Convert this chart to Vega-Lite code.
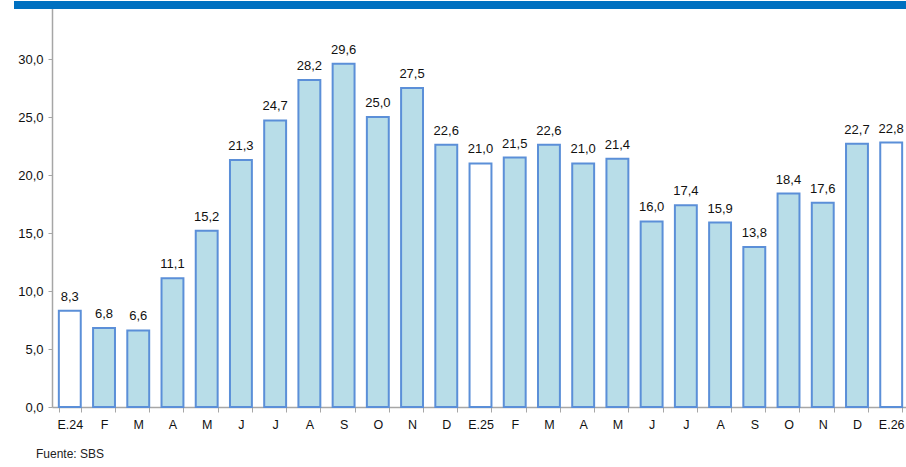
{
  "$schema": "https://vega.github.io/schema/vega-lite/v6.json",
  "width": 857,
  "height": 406,
  "autosize": {"type": "none"},
  "padding": {"left": 52, "top": 1, "right": 0, "bottom": 60},
  "background": "white",
  "config": {"view": {"stroke": null}, "font": "Liberation Sans",
    "locale": {"number": {"decimal": ",", "thousands": ".", "grouping": [3], "currency": ["", ""]}}},
  "title": {"text": "Fuente:  SBS", "orient": "bottom", "anchor": "start", "frame": "group", "dx": -16, "offset": 18, "fontSize": 12, "fontWeight": "normal", "color": "#222222", "font": "Liberation Sans"},
  "layer": [
    {
      "data": {"name": "main", "values": [
        {"id": "E.24|0", "v": 8.3, "t": "ene"},
        {"id": "F|1", "v": 6.8, "t": "mes"},
        {"id": "M|2", "v": 6.6, "t": "mes"},
        {"id": "A|3", "v": 11.1, "t": "mes"},
        {"id": "M|4", "v": 15.2, "t": "mes"},
        {"id": "J|5", "v": 21.3, "t": "mes"},
        {"id": "J|6", "v": 24.7, "t": "mes"},
        {"id": "A|7", "v": 28.2, "t": "mes"},
        {"id": "S|8", "v": 29.6, "t": "mes"},
        {"id": "O|9", "v": 25.0, "t": "mes"},
        {"id": "N|10", "v": 27.5, "t": "mes"},
        {"id": "D|11", "v": 22.6, "t": "mes"},
        {"id": "E.25|12", "v": 21.0, "t": "ene"},
        {"id": "F|13", "v": 21.5, "t": "mes"},
        {"id": "M|14", "v": 22.6, "t": "mes"},
        {"id": "A|15", "v": 21.0, "t": "mes"},
        {"id": "M|16", "v": 21.4, "t": "mes"},
        {"id": "J|17", "v": 16.0, "t": "mes"},
        {"id": "J|18", "v": 17.4, "t": "mes"},
        {"id": "A|19", "v": 15.9, "t": "mes"},
        {"id": "S|20", "v": 13.8, "t": "mes"},
        {"id": "O|21", "v": 18.4, "t": "mes"},
        {"id": "N|22", "v": 17.6, "t": "mes"},
        {"id": "D|23", "v": 22.7, "t": "mes"},
        {"id": "E.26|24", "v": 22.8, "t": "ene"}
      ]},
      "encoding": {
        "x": {"field": "id", "type": "nominal", "sort": null,
          "scale": {"paddingInner": 0.36, "paddingOuter": 0.2},
          "axis": {"title": null, "labelAngle": 0, "labelExpr": "isString(datum.value) ? split(datum.value,'|')[0] : ''", "labelFontSize": 12.5, "labelColor": "#111111", "labelPadding": 6, "tickBand": "extent", "tickSize": 5, "tickColor": "#a6a6a6", "domainColor": "#a6a6a6", "domainWidth": 1.5}},
        "y": {"field": "v", "type": "quantitative",
          "scale": {"domain": [0, 35], "nice": false},
          "axis": {"title": null, "values": [0, 5, 10, 15, 20, 25, 30], "format": ".1f", "labelFontSize": 13, "labelColor": "#111111", "grid": false, "tickSize": 4, "tickColor": "#a6a6a6", "domainColor": "#a6a6a6", "domainWidth": 1.5, "labelPadding": 5}}
      },
      "layer": [
        {"mark": {"type": "bar", "stroke": "#5b8fd8", "strokeWidth": 2},
          "encoding": {"fill": {"field": "t", "type": "nominal", "scale": {"domain": ["ene", "mes"], "range": ["#ffffff", "#b8dde8"]}, "legend": null}}},
        {"mark": {"type": "text", "baseline": "bottom", "dy": -7, "fontSize": 13, "color": "#111111"},
          "encoding": {"text": {"field": "v", "type": "quantitative", "format": ".1f"}}}
      ]
    },
    {"data": {"values": [{"a": 1}]},
      "mark": {"type": "rect", "color": "#0070c0", "x": -38, "x2": "width"},
      "encoding": {"y": {"datum": 35}, "y2": {"datum": 34.3}}}
  ]
}
